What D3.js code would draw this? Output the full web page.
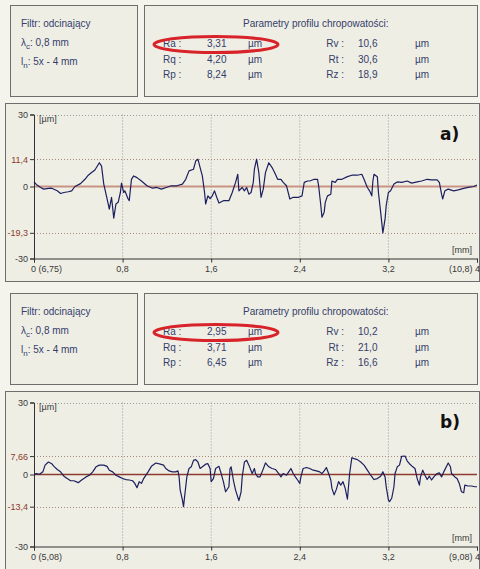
<!DOCTYPE html>
<html>
<head>
<meta charset="utf-8">
<script src="https://cdn.jsdelivr.net/npm/d3@7"></script>
<style>
  body { margin: 0; background: #f4f3ec; }
  svg { display: block; font-family: "Liberation Sans", Arial, sans-serif; }
</style>
</head>
<body>
<div id="chart"></div>
<script>
// Profile a) — position [mm] and height [µm]
const posA = [0, 0.027, 0.057, 0.087, 0.13, 0.16, 0.21, 0.24, 0.27, 0.31, 0.34, 0.37, 0.42, 0.46, 0.49, 0.52, 0.55, 0.59, 0.61, 0.63,
  0.66, 0.68, 0.70, 0.71, 0.72, 0.74, 0.76, 0.78, 0.79, 0.81, 0.82, 0.85, 0.86, 0.88, 0.90, 0.93, 0.97, 1.02, 1.07, 1.11,
  1.15, 1.20, 1.24, 1.29, 1.34, 1.37, 1.40, 1.44, 1.46, 1.48, 1.50, 1.52, 1.54, 1.55, 1.57, 1.59, 1.61, 1.63, 1.65, 1.67,
  1.71, 1.76, 1.79, 1.82, 1.84, 1.85, 1.88, 1.90, 1.92, 1.94, 1.96, 1.98, 1.99, 2.01, 2.03, 2.05, 2.07, 2.09, 2.12, 2.15,
  2.18, 2.20, 2.23, 2.25, 2.28, 2.31, 2.34, 2.39, 2.42, 2.44, 2.47, 2.49, 2.53, 2.56, 2.57, 2.59, 2.60, 2.62, 2.63, 2.65,
  2.68, 2.69, 2.72, 2.74, 2.78, 2.83, 2.87, 2.92, 2.96, 2.98, 3.01, 3.03, 3.05, 3.06, 3.07, 3.10, 3.11, 3.13, 3.15, 3.17,
  3.18, 3.20, 3.22, 3.25, 3.28, 3.32, 3.37, 3.41, 3.46, 3.50, 3.55, 3.59, 3.64, 3.66, 3.68, 3.69, 3.71, 3.74, 3.79, 3.83,
  3.88, 3.92, 3.97, 4.00];
const valA = [1.9, 0.6, -0.3, -1.1, -0.8, -0.7, -1.8, -2.9, -2.5, -2.2, -1.8, 0, 1.2, 3.0, 4.7, 5.8, 6.9, 9.9, 8.5, 1.0,
  -5.2, -9.4, -4.5, -8.7, -13.2, -7.3, -6.6, -2.5, 1.4, -2.5, -1.8, -5.2, -5.9, 3.0, 4.4, 3.7, 2.3, 0.3, -0.7, -0.4,
  -1.1, -0.3, 0.3, 0.3, 1.0, 3.0, 6.5, 7.2, 10.6, 11.4, 7.9, 4.4, -2.5, -7.3, -3.9, -5.0, -3.9, -1.8, -4.5, -6.9,
  -5.9, -5.9, -2.5, 1.7, 5.1, -1.8, -0.4, -1.8, -0.4, -3.2, -2.5, 1.7, 7.2, 11.4, 5.8, -4.5, -1.1, 5.8, 9.9, 7.9,
  5.1, 3.0, 3.0, 1.7, 0.3, -5.2, -4.5, -4.5, -3.9, 1.7, 2.3, 2.3, 3.0, 3.0, 0.3, -8.0, -12.8, -10.7, -6.6, -3.9,
  -3.2, 2.3, 1.7, 3.0, 3.0, 4.1, 4.7, 4.7, 5.1, 3.0, -0.4, -1.8, -3.9, 2.3, 5.1, 4.1, -2.5, -10.7, -19.3, -13.5,
  -8.0, -2.5, -1.8, 1.0, 1.9, 1.7, 2.3, 1.4, 1.9, 2.3, 3.0, 2.8, 2.8, 1.7, -3.2, -5.2, -1.8, -1.1, -1.8, -1.4,
  -0.8, -0.4, 0, 0.6];

// Profile b)
const posB = [0, 0.02, 0.05, 0.08, 0.10, 0.13, 0.16, 0.18, 0.21, 0.24, 0.27, 0.30, 0.33, 0.36, 0.40, 0.43, 0.47, 0.50, 0.53, 0.56,
  0.59, 0.63, 0.66, 0.68, 0.71, 0.74, 0.77, 0.80, 0.83, 0.86, 0.89, 0.91, 0.93, 0.95, 0.97, 0.99, 1.03, 1.06, 1.10, 1.14,
  1.17, 1.19, 1.22, 1.25, 1.28, 1.30, 1.31, 1.32, 1.34, 1.35, 1.36, 1.38, 1.40, 1.42, 1.44, 1.46, 1.48, 1.50, 1.52, 1.55,
  1.57, 1.59, 1.60, 1.62, 1.64, 1.67, 1.69, 1.71, 1.73, 1.76, 1.77, 1.78, 1.80, 1.82, 1.85, 1.87, 1.88, 1.90, 1.92, 1.94,
  1.97, 1.99, 2.00, 2.02, 2.04, 2.06, 2.09, 2.12, 2.15, 2.18, 2.21, 2.23, 2.25, 2.28, 2.30, 2.32, 2.34, 2.36, 2.38, 2.40,
  2.41, 2.43, 2.46, 2.49, 2.52, 2.55, 2.58, 2.60, 2.62, 2.64, 2.66, 2.68, 2.69, 2.71, 2.73, 2.75, 2.77, 2.79, 2.81, 2.83,
  2.85, 2.87, 2.89, 2.92, 2.95, 2.98, 3.01, 3.04, 3.07, 3.10, 3.13, 3.15, 3.17, 3.18, 3.20, 3.21, 3.23, 3.25, 3.26, 3.28,
  3.30, 3.32, 3.35, 3.37, 3.39, 3.42, 3.44, 3.46, 3.48, 3.49, 3.51, 3.53, 3.55, 3.57, 3.59, 3.61, 3.64, 3.66, 3.68, 3.70,
  3.74, 3.76, 3.77, 3.80, 3.82, 3.84, 3.86, 3.88, 3.89, 3.92, 3.95, 3.98, 4.00];
const valB = [0, 0.4, 0.1, 1.1, 3.9, 5.2, 4.5, 3.4, 2.1, 1.1, -0.7, -1.7, -2.6, -2.6, -3.4, -2.3, -1.0, -0.3, 1.1, 3.2,
  3.9, 3.9, 3.4, 1.8, 1.1, -0.3, -1.0, -1.7, -2.1, -2.3, -2.6, -3.7, -5.5, -3.0, -3.7, -1.7, 1.1, 3.4, 4.8, 4.3,
  3.9, 2.5, 1.5, 1.1, 1.1, 1.5, -1.0, -6.5, -10.6, -13.4, -9.2, -1.0, 2.5, 3.2, 5.9, 6.2, 5.2, 2.5, 3.2, 4.3,
  4.5, 2.5, -3.0, -1.7, 2.5, 3.4, 0.4, -3.0, -7.2, -5.1, 2.5, 3.2, -2.3, -6.5, -10.9, -7.2, -1.0, 5.2, 5.9, 3.9,
  0.4, 2.5, 0.4, -1.0, -1.0, 1.1, 4.8, 3.2, 2.5, 2.1, 0.4, -1.0, 0.4, -0.3, 1.1, 2.5, 0.4, -1.0, -2.3, -3.7,
  -1.0, 2.5, 2.9, 2.5, 1.8, 1.5, 1.1, 0.4, 1.5, 2.9, 0.4, -2.3, -5.8, -8.5, -6.2, -3.0, -4.4, -3.0, -5.8, -10.3,
  0.4, 7.0, 6.6, 6.2, 5.2, 3.9, 1.8, -0.3, -2.1, -1.7, -0.7, 1.1, -1.0, -5.1, -10.6, -11.3, -9.9, -5.1, 0.4, 3.2,
  3.9, 7.6, 7.66, 5.6, 4.5, 3.2, 2.5, -1.7, -4.4, -1.0, 1.8, -0.3, -2.1, -0.7, -2.3, -1.0, 0.4, 0.7, -1.0, 1.1,
  4.8, 3.2, 0.4, -1.0, -1.7, -3.7, -7.2, -7.6, -4.4, -4.8, -4.8, -5.1, -5.1];

// Axis ticks
const xTicks = [0, 0.8, 1.6, 2.4, 3.2, 4];
const xTickLabelsA = ["0 (6,75)", "0,8", "1,6", "2,4", "3,2", "(10,8) 4"];
const xTickLabelsB = ["0 (5,08)", "0,8", "1,6", "2,4", "3,2", "(9,08) 4"];
const yTicksA = [30, 11.4, 0, -19.3, -30];
const yTickLabelsA = ["30", "11,4", "0", "-19,3", "-30"];
const yTicksB = [30, 7.66, 0, -13.4, -30];
const yTickLabelsB = ["30", "7,66", "0", "-13,4", "-30"];

// Roughness parameters
const leftNames = ["Ra", "Rq", "Rp"];
const rightNames = ["Rv", "Rt", "Rz"];
const leftValsA = ["3,31", "4,20", "8,24"];
const rightValsA = ["10,6", "30,6", "18,9"];
const leftValsB = ["2,95", "3,71", "6,45"];
const rightValsB = ["10,2", "21,0", "16,6"];

const width = 480, height = 569;
const textColor = "#34406a";
const svg = d3.select("#chart").append("svg")
    .attr("width", width)
    .attr("height", height);

function drawPanel(dy, cfg) {
    const g = svg.append("g").attr("transform", `translate(0,${dy})`);

    // info boxes
    g.append("rect").attr("x", 10.5).attr("y", 5.5).attr("width", 127).attr("height", 91)
        .attr("fill", "#efeee5").attr("stroke", "#6e6e6e");
    g.append("rect").attr("x", 144.5).attr("y", 5.5).attr("width", 333).attr("height", 91)
        .attr("fill", "#efeee5").attr("stroke", "#6e6e6e");

    const t = g.append("g").attr("fill", textColor).style("font-size", "10px");
    t.append("text").attr("x", 21).attr("y", 27).text("Filtr: odcinający");
    const lc = t.append("text").attr("x", 21).attr("y", 46);
    lc.append("tspan").text("λ");
    lc.append("tspan").attr("dy", 3).style("font-size", "8px").text("c");
    lc.append("tspan").attr("dy", -3).text(":  0,8 mm");
    const ln = t.append("text").attr("x", 21).attr("y", 65);
    ln.append("tspan").text("l");
    ln.append("tspan").attr("dy", 3).style("font-size", "8px").text("n");
    ln.append("tspan").attr("dy", -3).text(":  5x - 4 mm");

    t.append("text").attr("x", 243).attr("y", 27).text("Parametry profilu chropowatości:");
    const rowY = [47, 63, 78];
    leftNames.forEach((n, i) => {
        t.append("text").attr("x", 163).attr("y", rowY[i]).text(n + " :");
        t.append("text").attr("x", 207).attr("y", rowY[i]).text(cfg.leftVals[i]);
        t.append("text").attr("x", 248).attr("y", rowY[i]).text("µm");
    });
    rightNames.forEach((n, i) => {
        t.append("text").attr("x", 344).attr("y", rowY[i]).attr("text-anchor", "end").text(n + " :");
        t.append("text").attr("x", 358).attr("y", rowY[i]).text(cfg.rightVals[i]);
        t.append("text").attr("x", 415).attr("y", rowY[i]).text("µm");
    });

    // red ellipse around Ra
    g.append("ellipse").attr("cx", 216).attr("cy", 44.5).attr("rx", 62).attr("ry", 8)
        .attr("fill", "none").attr("stroke", "#d8232a").attr("stroke-width", 3);

    // chart box
    g.append("rect").attr("x", 5.5).attr("y", 103.5).attr("width", 474).attr("height", 178)
        .attr("fill", "#efeee5").attr("stroke", "#6e6e6e");

    const x = d3.scaleLinear().domain([0, 4]).range([34, 477]);
    const y = d3.scaleLinear().domain([-30, 30]).range([258.5, 114.5]);

    // grid
    g.append("g").selectAll("line").data(xTicks.slice(1, 5)).join("line")
        .attr("x1", d => x(d)).attr("x2", d => x(d))
        .attr("y1", y(30)).attr("y2", y(-30))
        .attr("stroke", "#9a9a9a").attr("stroke-dasharray", "1,2");
    g.append("g").selectAll("line").data(cfg.yTicks.filter(d => d !== 0 && d !== -30)).join("line")
        .attr("x1", x(0)).attr("x2", x(4))
        .attr("y1", d => Math.round(y(d)) + 0.5).attr("y2", d => Math.round(y(d)) + 0.5)
        .attr("stroke", d => d === 30 ? "#9a9a9a" : "#a58a7a").attr("stroke-dasharray", "1,2");

    // zero line
    g.append("line").attr("x1", x(0)).attr("x2", x(4))
        .attr("y1", y(0)).attr("y2", y(0))
        .attr("stroke", cfg.zeroColor).attr("stroke-width", cfg.zeroWidth);

    // axes
    const yAxis = g.append("g").attr("transform", `translate(${x(0)},0)`)
        .call(d3.axisLeft(y).tickValues(cfg.yTicks).tickSize(4)
            .tickFormat((d, i) => cfg.yTickLabels[i]));
    yAxis.select(".domain").attr("stroke", "#333");
    yAxis.selectAll(".tick line").attr("stroke", "#333");
    yAxis.selectAll(".tick text")
        .attr("fill", d => (d === 0 || Math.abs(d) === 30) ? "#3a3a3a" : "#8a3c28")
        .style("font-size", "9px").attr("dx", 1);

    const xAxis = g.append("g").attr("transform", `translate(0,${y(-30)})`)
        .call(d3.axisBottom(x).tickValues(xTicks).tickSize(4).tickFormat(""));
    xAxis.select(".domain").attr("stroke", "#333");
    xAxis.selectAll(".tick line").attr("stroke", "#333");

    const xl = g.append("g").attr("fill", "#3a3a3a").style("font-size", "9px");
    xTicks.forEach((d, i) => {
        const lab = cfg.xTickLabels[i];
        if (i === 0) {
            xl.append("text").attr("x", x(d) - 3).attr("y", 272).text(lab);
        } else if (i === xTicks.length - 1) {
            xl.append("text").attr("x", x(d) + 3).attr("y", 272).attr("text-anchor", "end").text(lab);
        } else {
            xl.append("text").attr("x", x(d)).attr("y", 272).attr("text-anchor", "middle").text(lab);
        }
    });

    // unit labels and panel letter
    g.append("text").attr("x", 39).attr("y", 122).attr("fill", "#3a3a3a").style("font-size", "9px").text("[µm]");
    g.append("text").attr("x", 452).attr("y", 253).attr("fill", "#3a3a3a").style("font-size", "9px").text("[mm]");
    g.append("text").attr("x", 440).attr("y", 140)
        .style("font-family", "'DejaVu Sans', Verdana, sans-serif")
        .style("font-weight", "bold").style("font-size", "17px").attr("fill", "#111")
        .text(cfg.letter);

    // profile line
    const pts = cfg.pos.map((p, i) => [p, cfg.vals[i]]);
    const line = d3.line().x(d => x(d[0])).y(d => y(d[1]));
    g.append("path").datum(pts)
        .attr("d", line)
        .attr("fill", "none")
        .attr("stroke", "#1c1f5e")
        .attr("stroke-width", 1.2)
        .attr("stroke-linejoin", "round");
}

drawPanel(0, {
    leftVals: leftValsA, rightVals: rightValsA,
    yTicks: yTicksA, yTickLabels: yTickLabelsA, xTickLabels: xTickLabelsA,
    pos: posA, vals: valA, letter: "a)",
    zeroColor: "#c99384", zeroWidth: 2
});
drawPanel(288, {
    leftVals: leftValsB, rightVals: rightValsB,
    yTicks: yTicksB, yTickLabels: yTickLabelsB, xTickLabels: xTickLabelsB,
    pos: posB, vals: valB, letter: "b)",
    zeroColor: "#8e3a2c", zeroWidth: 1.3
});
</script>
</body>
</html>
